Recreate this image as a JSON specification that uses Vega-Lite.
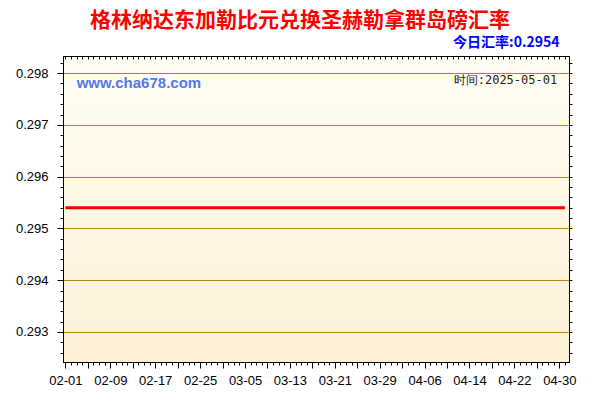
{
  "$schema": "https://vega.github.io/schema/vega-lite/v6.json",
  "width": 506,
  "height": 306,
  "autosize": {"type": "none"},
  "padding": {"left": 63, "top": 56, "right": 31, "bottom": 38},
  "background": "white",
  "title": {
    "text": "格林纳达东加勒比元兑换圣赫勒拿群岛磅汇率",
    "color": "#ff0000",
    "font": "Noto Sans CJK SC",
    "fontSize": 21,
    "fontWeight": "bold",
    "anchor": "middle",
    "frame": "group",
    "dx": -16,
    "offset": 4
  },
  "layer": [
    {
      "data": {
        "values": [
          {"date": "2025-02-01", "rate": 0.2954}, {"date": "2025-02-02", "rate": 0.2954}, {"date": "2025-02-03", "rate": 0.2954},
          {"date": "2025-02-04", "rate": 0.2954}, {"date": "2025-02-05", "rate": 0.2954}, {"date": "2025-02-06", "rate": 0.2954},
          {"date": "2025-02-07", "rate": 0.2954}, {"date": "2025-02-08", "rate": 0.2954}, {"date": "2025-02-09", "rate": 0.2954},
          {"date": "2025-02-10", "rate": 0.2954}, {"date": "2025-02-11", "rate": 0.2954}, {"date": "2025-02-12", "rate": 0.2954},
          {"date": "2025-02-13", "rate": 0.2954}, {"date": "2025-02-14", "rate": 0.2954}, {"date": "2025-02-15", "rate": 0.2954},
          {"date": "2025-02-16", "rate": 0.2954}, {"date": "2025-02-17", "rate": 0.2954}, {"date": "2025-02-18", "rate": 0.2954},
          {"date": "2025-02-19", "rate": 0.2954}, {"date": "2025-02-20", "rate": 0.2954}, {"date": "2025-02-21", "rate": 0.2954},
          {"date": "2025-02-22", "rate": 0.2954}, {"date": "2025-02-23", "rate": 0.2954}, {"date": "2025-02-24", "rate": 0.2954},
          {"date": "2025-02-25", "rate": 0.2954}, {"date": "2025-02-26", "rate": 0.2954}, {"date": "2025-02-27", "rate": 0.2954},
          {"date": "2025-02-28", "rate": 0.2954}, {"date": "2025-03-01", "rate": 0.2954}, {"date": "2025-03-02", "rate": 0.2954},
          {"date": "2025-03-03", "rate": 0.2954}, {"date": "2025-03-04", "rate": 0.2954}, {"date": "2025-03-05", "rate": 0.2954},
          {"date": "2025-03-06", "rate": 0.2954}, {"date": "2025-03-07", "rate": 0.2954}, {"date": "2025-03-08", "rate": 0.2954},
          {"date": "2025-03-09", "rate": 0.2954}, {"date": "2025-03-10", "rate": 0.2954}, {"date": "2025-03-11", "rate": 0.2954},
          {"date": "2025-03-12", "rate": 0.2954}, {"date": "2025-03-13", "rate": 0.2954}, {"date": "2025-03-14", "rate": 0.2954},
          {"date": "2025-03-15", "rate": 0.2954}, {"date": "2025-03-16", "rate": 0.2954}, {"date": "2025-03-17", "rate": 0.2954},
          {"date": "2025-03-18", "rate": 0.2954}, {"date": "2025-03-19", "rate": 0.2954}, {"date": "2025-03-20", "rate": 0.2954},
          {"date": "2025-03-21", "rate": 0.2954}, {"date": "2025-03-22", "rate": 0.2954}, {"date": "2025-03-23", "rate": 0.2954},
          {"date": "2025-03-24", "rate": 0.2954}, {"date": "2025-03-25", "rate": 0.2954}, {"date": "2025-03-26", "rate": 0.2954},
          {"date": "2025-03-27", "rate": 0.2954}, {"date": "2025-03-28", "rate": 0.2954}, {"date": "2025-03-29", "rate": 0.2954},
          {"date": "2025-03-30", "rate": 0.2954}, {"date": "2025-03-31", "rate": 0.2954}, {"date": "2025-04-01", "rate": 0.2954},
          {"date": "2025-04-02", "rate": 0.2954}, {"date": "2025-04-03", "rate": 0.2954}, {"date": "2025-04-04", "rate": 0.2954},
          {"date": "2025-04-05", "rate": 0.2954}, {"date": "2025-04-06", "rate": 0.2954}, {"date": "2025-04-07", "rate": 0.2954},
          {"date": "2025-04-08", "rate": 0.2954}, {"date": "2025-04-09", "rate": 0.2954}, {"date": "2025-04-10", "rate": 0.2954},
          {"date": "2025-04-11", "rate": 0.2954}, {"date": "2025-04-12", "rate": 0.2954}, {"date": "2025-04-13", "rate": 0.2954},
          {"date": "2025-04-14", "rate": 0.2954}, {"date": "2025-04-15", "rate": 0.2954}, {"date": "2025-04-16", "rate": 0.2954},
          {"date": "2025-04-17", "rate": 0.2954}, {"date": "2025-04-18", "rate": 0.2954}, {"date": "2025-04-19", "rate": 0.2954},
          {"date": "2025-04-20", "rate": 0.2954}, {"date": "2025-04-21", "rate": 0.2954}, {"date": "2025-04-22", "rate": 0.2954},
          {"date": "2025-04-23", "rate": 0.2954}, {"date": "2025-04-24", "rate": 0.2954}, {"date": "2025-04-25", "rate": 0.2954},
          {"date": "2025-04-26", "rate": 0.2954}, {"date": "2025-04-27", "rate": 0.2954}, {"date": "2025-04-28", "rate": 0.2954},
          {"date": "2025-04-29", "rate": 0.2954}, {"date": "2025-04-30", "rate": 0.2954}, {"date": "2025-05-01", "rate": 0.2954}
        ]
      },
      "mark": {"type": "line", "color": "#ff0000", "strokeWidth": 3},
      "encoding": {
        "x": {
          "field": "date",
          "type": "temporal",
          "scale": {
            "type": "utc",
            "nice": false,
            "domain": [
              {"year": 2025, "month": 1, "date": 31, "hours": 13, "minutes": 40, "utc": true},
              {"year": 2025, "month": 5, "date": 1, "hours": 17, "minutes": 30, "utc": true}
            ]
          },
          "axis": {
            "orient": "bottom",
            "title": null,
            "grid": false,
            "tickCount": {"interval": "day", "step": 1},
            "labelExpr": "round((datum.value - utc(2025,1,1)) / 86400000) % 8 === 0 ? utcFormat(datum.value, '%m-%d') : ''",
            "tickSize": {"condition": {"test": "round((datum.value - utc(2025,1,1)) / 86400000) % 4 === 0", "value": 6}, "value": 3},
            "labelOverlap": false,
            "labelFlush": false,
            "labelPadding": 6,
            "labelFont": "Liberation Sans",
            "labelFontSize": 13,
            "labelColor": "#000000",
            "domainColor": "#000000",
            "tickColor": "#000000"
          }
        },
        "y": {
          "field": "rate",
          "type": "quantitative",
          "scale": {"domain": [0.29242, 0.29833], "zero": false, "nice": false},
          "axis": {
            "orient": "left",
            "title": null,
            "values": [0.2926, 0.2928, 0.293, 0.2932, 0.2934, 0.2936, 0.2938, 0.294, 0.2942, 0.2944, 0.2946, 0.2948, 0.295, 0.2952, 0.2954, 0.2956, 0.2958, 0.296, 0.2962, 0.2964, 0.2966, 0.2968, 0.297, 0.2972, 0.2974, 0.2976, 0.2978, 0.298, 0.2982],
            "labelExpr": "abs(datum.value * 1000 - round(datum.value * 1000)) < 0.01 ? format(datum.value, '.3f') : ''",
            "tickSize": {"condition": {"test": "abs(datum.value * 1000 - round(datum.value * 1000)) < 0.01", "value": 6}, "value": 3},
            "grid": true,
            "gridColor": "#b8860b",
            "gridOpacity": {"condition": {"test": "abs(datum.value * 1000 - round(datum.value * 1000)) < 0.01", "value": 1}, "value": 0},
            "labelOverlap": false,
            "labelFlush": false,
            "labelPadding": 9,
            "labelFont": "Liberation Sans",
            "labelFontSize": 13,
            "labelColor": "#000000",
            "domainColor": "#000000",
            "tickColor": "#000000"
          }
        }
      }
    },
    {
      "data": {"values": [{"label": "www.cha678.com"}]},
      "mark": {"type": "text", "align": "left", "baseline": "middle", "font": "Liberation Sans", "fontSize": 15, "fontWeight": "bold", "color": "#5577ee"},
      "encoding": {
        "text": {"field": "label"},
        "x": {
          "datum": {"year": 2025, "month": 2, "date": 3, "utc": true},
          "type": "temporal",
          "scale": {
            "type": "utc",
            "nice": false,
            "domain": [
              {"year": 2025, "month": 1, "date": 31, "hours": 13, "minutes": 40, "utc": true},
              {"year": 2025, "month": 5, "date": 1, "hours": 17, "minutes": 30, "utc": true}
            ]
          },
          "axis": {
            "orient": "top",
            "title": "今日汇率:0.2954",
            "titleFont": "Noto Sans CJK SC",
            "titleFontSize": 14,
            "titleFontWeight": "bold",
            "titleColor": "#0000ff",
            "titleAnchor": "end",
            "titleAlign": "right",
            "titleBaseline": "middle",
            "titleX": 496,
            "titleY": -14,
            "labels": false,
            "grid": false,
            "tickCount": {"interval": "day", "step": 1},
            "tickSize": -3,
            "domainColor": "#000000",
            "tickColor": "#000000"
          }
        },
        "y": {
          "datum": 0.2978,
          "type": "quantitative",
          "scale": {"domain": [0.29242, 0.29833], "zero": false, "nice": false},
          "axis": {
            "orient": "right",
            "title": null,
            "labels": false,
            "grid": false,
            "values": [0.2926, 0.2928, 0.293, 0.2932, 0.2934, 0.2936, 0.2938, 0.294, 0.2942, 0.2944, 0.2946, 0.2948, 0.295, 0.2952, 0.2954, 0.2956, 0.2958, 0.296, 0.2962, 0.2964, 0.2966, 0.2968, 0.297, 0.2972, 0.2974, 0.2976, 0.2978, 0.298, 0.2982],
            "tickSize": 3,
            "domainColor": "#000000",
            "tickColor": "#000000"
          }
        }
      }
    },
    {
      "data": {"values": [{"label": "时间:2025-05-01"}]},
      "mark": {"type": "text", "align": "right", "baseline": "middle", "font": "DejaVu Sans Mono", "fontSize": 12, "color": "#222222"},
      "encoding": {
        "text": {"field": "label"},
        "x": {
          "datum": {"year": 2025, "month": 4, "date": 29, "hours": 15, "utc": true},
          "type": "temporal",
          "axis": null
        },
        "y": {"datum": 0.29786, "type": "quantitative", "axis": null}
      }
    }
  ],
  "resolve": {"axis": {"x": "independent", "y": "independent"}},
  "config": {
    "view": {
      "stroke": "#000000",
      "strokeWidth": 1,
      "fill": {
        "gradient": "linear",
        "x1": 0, "y1": 0, "x2": 0, "y2": 1,
        "stops": [
          {"offset": 0, "color": "#fffef3"},
          {"offset": 1, "color": "#fdf0d8"}
        ]
      }
    }
  }
}
